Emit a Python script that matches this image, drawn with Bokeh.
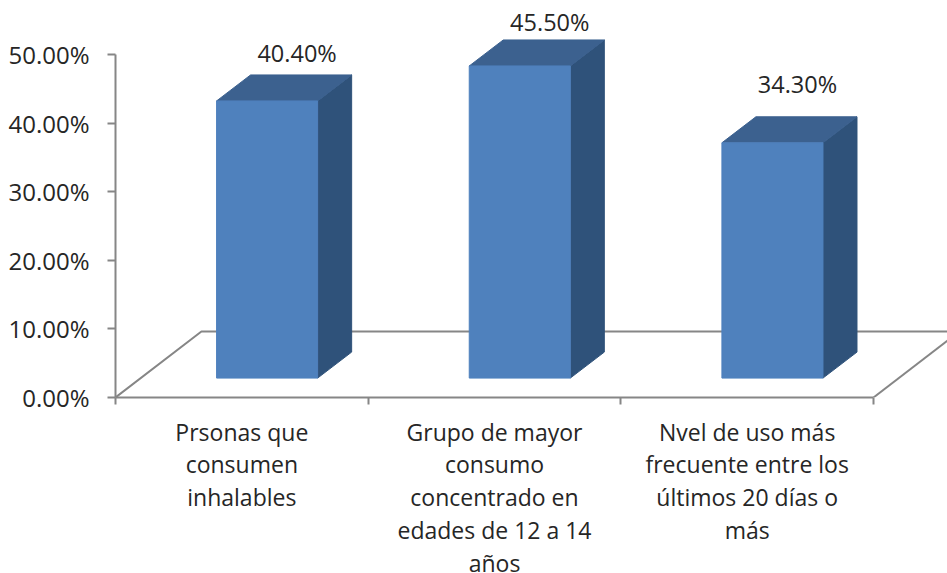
from bokeh.embed import file_html
from bokeh.resources import INLINE
from bokeh.plotting import figure
from bokeh.models import LinearAxis, FixedTicker, PrintfTickFormatter, Range1d
from bokeh.core.properties import value

categories = ["Prsonas que\nconsumen\ninhalables",
              "Grupo de mayor\nconsumo\nconcentrado en\nedades de 12 a 14\naños",
              "Nvel de uso más\nfrecuente entre los\núltimos 20 días o\nmás"]
values = [40.4, 45.5, 34.3]
value_labels = ["40.40%", "45.50%", "34.30%"]
y_ticks = [0, 10, 20, 30, 40, 50]

# 3-D styling constants, in data units of each axis
BAR_W = 0.4
BAR_GAP = 0.4
DEPTH_X = 0.1346
DEPTH_Y = 3.79
LIFT = 2.83
FLOOR_X = 0.34
FLOOR_Y = 9.62
FONT = "Open Sans"
TXT = "#262626"
AX = "#868686"
label_dx = [30, 30, 25]
label_dy = [-22, -18, -33]

W, H = 947, 573
FRAME_LEFT, FRAME_BOTTOM = 115, 176
xmax = (W - FRAME_LEFT) / 252.67
ymax = (H - FRAME_BOTTOM) / 6.86

p = figure(width=W, height=H, output_backend="svg", toolbar_location=None,
           x_range=Range1d(0, xmax), y_range=Range1d(0, ymax),
           x_axis_location=None, y_axis_location=None,
           min_border_left=FRAME_LEFT, min_border_bottom=FRAME_BOTTOM,
           min_border_top=0, min_border_right=0)
p.grid.visible = False
p.outline_line_color = None
p.background_fill_color = "white"

left = LinearAxis(ticker=FixedTicker(ticks=y_ticks),
                  formatter=PrintfTickFormatter(format="%.2f%%"), bounds=(0, 50))
left.axis_line_color = AX; left.axis_line_width = 2
left.major_tick_line_color = AX; left.major_tick_line_width = 2
left.major_tick_out = 8; left.major_tick_in = 0
left.minor_tick_line_color = None
left.major_label_standoff = 18
left.major_label_text_font = FONT
left.major_label_text_font_size = "24px"
left.major_label_text_color = TXT
p.add_layout(left, "left")

bottom = LinearAxis(ticker=FixedTicker(ticks=[0, 1, 2, 3]), bounds=(0, 3),
                    major_label_overrides={0: "", 1: "", 2: "", 3: ""})
bottom.axis_line_color = AX; bottom.axis_line_width = 2
bottom.major_tick_line_color = AX; bottom.major_tick_line_width = 2
bottom.major_tick_out = 7; bottom.major_tick_in = 0
bottom.minor_tick_line_color = None
p.add_layout(bottom, "below")

# floor
p.line([0, FLOOR_X, 3 + FLOOR_X], [0, FLOOR_Y, FLOOR_Y], line_color=AX, line_width=2)
p.line([3, 3 + FLOOR_X], [0, FLOOR_Y], line_color=AX, line_width=2)

for i, v in enumerate(values):
    x0 = i + BAR_GAP
    x1 = x0 + BAR_W
    y0 = LIFT
    y1 = LIFT + v
    p.patch([x1, x1 + DEPTH_X, x1 + DEPTH_X, x1],
            [y0, y0 + DEPTH_Y, y1 + DEPTH_Y, y1], fill_color="#2F527A", line_color="#2F527A", line_width=1)
    p.patch([x0, x0 + DEPTH_X, x1 + DEPTH_X, x1],
            [y1, y1 + DEPTH_Y, y1 + DEPTH_Y, y1], fill_color="#3C618F", line_color="#3C618F", line_width=1)
    p.quad(left=[x0], right=[x1], bottom=[y0], top=[y1],
           fill_color="#4F81BD", line_color="#4F81BD", line_width=1)
    p.text([x0 + BAR_W / 2], [y1 + DEPTH_Y], text=[value_labels[i]],
           x_offset=label_dx[i], y_offset=label_dy[i],
           text_align="center", text_baseline="middle",
           text_font=value(FONT), text_font_size="23.5px", text_color=TXT)

p.text([i + 0.5 for i in range(3)], [0] * 3, text=categories,
       y_offset=18, text_align="center", text_baseline="top",
       text_line_height=1.03, text_font=value(FONT), text_font_size="23px",
       text_color=TXT, level="overlay")

open("out.html", "w").write(file_html(p, INLINE))
